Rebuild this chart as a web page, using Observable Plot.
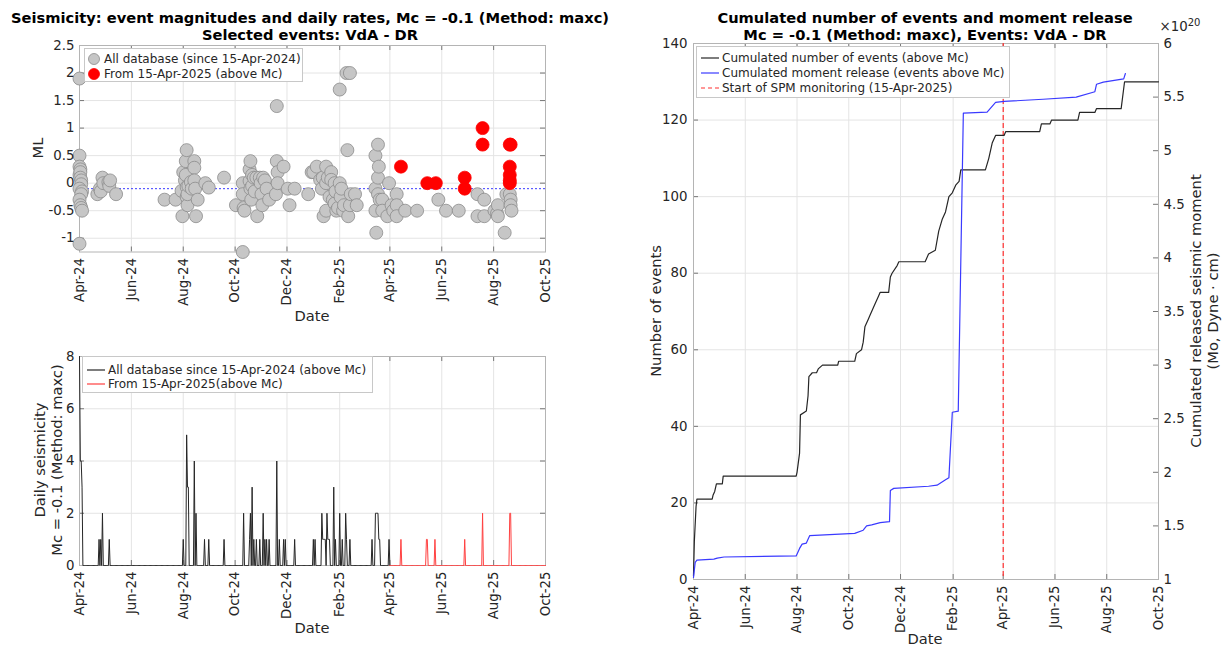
<!DOCTYPE html>
<html>
<head>
<meta charset="utf-8">
<script src="https://cdn.jsdelivr.net/npm/d3@7"></script>
<script src="https://cdn.jsdelivr.net/npm/@observablehq/plot@0.6"></script>
<style>
  html, body { margin: 0; padding: 0; background: #fff; }
  #page { position: relative; width: 1223px; height: 648px; overflow: hidden; font-family: "DejaVu Sans", sans-serif; color: #262626; }
  svg.panel { position: absolute; overflow: visible; max-width: none !important; }
  .txt { position: absolute; white-space: nowrap; transform: translate(-50%, -50%); }
  .title { font-weight: bold; font-size: 14.67px; color: #000; text-align: center; line-height: 17px; }
  .axlab { font-size: 14.67px; color: #262626; }
  .rot { transform: translate(-50%, -50%) rotate(-90deg); text-align: center; line-height: 17px; }
  .legend { position: absolute; background: #fff; border: 1px solid #c8c8c8; font-size: 12px; box-sizing: border-box; color: #262626; }
  .legend .row { position: absolute; display: flex; align-items: center; white-space: nowrap; transform: translateY(-50%); }
  .legend .row svg { margin-right: 3px; }
</style>
</head>
<body>
<div id="page"></div>
<script>
const parse = d3.utcParse("%Y-%m-%d");

// ---- time frame & settings ----
const startDate = "2024-04-15";
const endDate = "2025-10-15";
const monitoringDate = "2025-04-15";
const Mc = -0.1;
const tickDates = ["2024-04-15", "2024-06-15", "2024-08-15", "2024-10-15", "2024-12-15",
                   "2025-02-15", "2025-04-15", "2025-06-15", "2025-08-15", "2025-10-15"];
const mlTicks = [-1, -0.5, 0, 0.5, 1, 1.5, 2, 2.5];
const dailyTicks = [0, 2, 4, 6, 8];
const countTicks = [0, 20, 40, 60, 80, 100, 120, 140];
const momentTicks = [1, 1.5, 2, 2.5, 3, 3.5, 4, 4.5, 5, 5.5, 6];

// ---- magnitudes: all database (since 15-Apr-2024) ----
const allEvents = [
  ["2024-04-15", 1.9], ["2024-04-15", 0.5], ["2024-04-15", 0.3], ["2024-04-16", 0.25], ["2024-04-15", 0.15],
  ["2024-04-16", 0.2], ["2024-04-16", 0.1], ["2024-04-17", 0.05], ["2024-04-17", -0.02], ["2024-04-15", -0.1],
  ["2024-04-18", -0.15], ["2024-04-17", -0.2], ["2024-04-15", -0.3], ["2024-04-16", -0.4], ["2024-04-17", -0.45],
  ["2024-04-18", -0.5], ["2024-04-15", -1.1],
  ["2024-05-06", -0.2], ["2024-05-09", -0.1], ["2024-05-10", -0.15], ["2024-05-12", 0.1], ["2024-05-13", 0.0],
  ["2024-05-19", 0.02], ["2024-05-20", -0.05], ["2024-05-21", 0.05], ["2024-05-28", -0.2],
  ["2024-07-24", -0.3], ["2024-08-06", -0.3], ["2024-08-13", -0.14], ["2024-08-14", -0.6], ["2024-08-15", 0.2],
  ["2024-08-17", 0.05], ["2024-08-18", 0.4], ["2024-08-18", 0.15], ["2024-08-19", 0.6], ["2024-08-19", -0.07],
  ["2024-08-19", -0.25], ["2024-08-20", -0.4], ["2024-08-20", -0.2], ["2024-08-21", -0.05], ["2024-08-24", 0.02],
  ["2024-08-25", -0.1], ["2024-08-28", 0.4], ["2024-08-28", 0.28], ["2024-08-28", 0.05], ["2024-08-29", -0.1],
  ["2024-08-30", -0.6], ["2024-09-01", -0.3], ["2024-09-10", 0.0], ["2024-09-14", -0.08], ["2024-10-02", 0.1],
  ["2024-10-16", -0.4], ["2024-10-24", -1.25], ["2024-10-24", 0.0], ["2024-10-24", -0.2], ["2024-10-25", -0.45],
  ["2024-10-26", -0.5], ["2024-11-01", 0.04], ["2024-11-01", 0.25], ["2024-11-02", 0.4], ["2024-11-02", -0.1],
  ["2024-11-03", -0.3], ["2024-11-04", 0.15], ["2024-11-04", -0.05], ["2024-11-06", 0.1], ["2024-11-07", -0.15],
  ["2024-11-09", 0.1], ["2024-11-10", -0.6], ["2024-11-13", 0.1], ["2024-11-14", 0.0], ["2024-11-15", -0.2],
  ["2024-11-16", -0.4], ["2024-11-17", 0.1], ["2024-11-19", 0.05], ["2024-11-21", -0.1], ["2024-11-24", -0.3],
  ["2024-12-02", -0.2], ["2024-12-03", 1.4], ["2024-12-03", 0.4], ["2024-12-04", 0.2], ["2024-12-04", 0.0],
  ["2024-12-11", 0.3], ["2024-12-16", -0.1], ["2024-12-18", -0.4], ["2024-12-24", -0.1],
  ["2025-01-09", -0.2], ["2025-01-13", 0.2], ["2025-01-15", 0.2], ["2025-01-19", 0.3], ["2025-01-23", 0.06],
  ["2025-01-25", -0.1], ["2025-01-26", 0.1], ["2025-01-27", -0.6], ["2025-01-30", -0.5], ["2025-01-30", 0.3],
  ["2025-01-30", 0.0], ["2025-02-01", 0.1], ["2025-02-03", -0.25], ["2025-02-05", 0.2], ["2025-02-05", 0.06],
  ["2025-02-07", -0.3], ["2025-02-09", 0.0], ["2025-02-09", -0.37], ["2025-02-10", -0.15], ["2025-02-11", -0.5],
  ["2025-02-13", -0.45], ["2025-02-15", 1.7], ["2025-02-15", 0.0], ["2025-02-16", -0.25], ["2025-02-17", -0.1],
  ["2025-02-19", -0.5], ["2025-02-20", -0.4], ["2025-02-23", 2.0], ["2025-02-24", 0.6], ["2025-02-25", -0.6],
  ["2025-02-27", 2.0], ["2025-02-27", -0.4], ["2025-02-28", -0.2], ["2025-03-05", -0.2], ["2025-03-07", -0.4],
  ["2025-03-29", -0.1], ["2025-03-29", 0.5], ["2025-03-29", -0.5], ["2025-03-30", -0.9], ["2025-04-01", 0.7],
  ["2025-04-01", 0.1], ["2025-04-01", -0.2], ["2025-04-02", 0.3], ["2025-04-03", -0.3], ["2025-04-06", -0.3],
  ["2025-04-06", -0.5], ["2025-04-12", -0.6], ["2025-04-14", 0.0], ["2025-04-17", -0.4], ["2025-04-19", -0.5],
  ["2025-04-23", -0.2], ["2025-04-23", -0.4], ["2025-04-23", -0.6], ["2025-05-03", -0.5], ["2025-05-17", -0.5],
  ["2025-06-11", -0.3], ["2025-06-20", -0.5], ["2025-07-05", -0.5], ["2025-07-27", -0.2], ["2025-07-27", -0.6],
  ["2025-08-04", -0.6], ["2025-08-04", -0.3], ["2025-08-16", -0.5], ["2025-08-19", -0.55], ["2025-08-20", -0.4],
  ["2025-08-20", -0.6], ["2025-08-28", -0.9], ["2025-08-30", -0.2], ["2025-09-03", -0.2], ["2025-09-04", -0.3],
  ["2025-09-04", -0.4], ["2025-09-05", -0.5]
];

// ---- magnitudes: from 15-Apr-2025, above Mc ----
const newEvents = [
  ["2025-04-28", 0.3], ["2025-05-29", 0.0], ["2025-06-08", 0.0], ["2025-07-12", 0.1], ["2025-07-12", -0.1],
  ["2025-08-02", 1.0], ["2025-08-02", 0.7], ["2025-09-03", 0.7], ["2025-09-04", 0.7], ["2025-09-03", 0.3],
  ["2025-09-03", 0.15], ["2025-09-03", 0.05], ["2025-09-03", 0.0]
];

// ---- daily counts above Mc (days not listed had no events) ----
const dailyBefore = [
  ["2024-04-15", 8], ["2024-04-16", 4], ["2024-04-17", 4], ["2024-04-18", 3],
  ["2024-05-08", 1], ["2024-05-10", 1], ["2024-05-12", 2], ["2024-05-20", 1],
  ["2024-08-15", 1], ["2024-08-19", 5], ["2024-08-20", 3], ["2024-08-21", 3], ["2024-08-28", 4], ["2024-08-30", 2],
  ["2024-09-09", 1], ["2024-09-14", 1], ["2024-10-02", 1],
  ["2024-10-25", 2], ["2024-11-01", 1], ["2024-11-02", 2], ["2024-11-04", 3], ["2024-11-06", 1], ["2024-11-09", 1],
  ["2024-11-13", 1], ["2024-11-17", 2], ["2024-11-19", 1], ["2024-11-21", 1], ["2024-11-24", 1],
  ["2024-12-03", 4], ["2024-12-06", 1], ["2024-12-11", 1], ["2024-12-13", 1], ["2024-12-24", 1],
  ["2025-01-15", 1], ["2025-01-17", 1], ["2025-01-25", 2], ["2025-01-26", 1], ["2025-01-27", 1], ["2025-01-28", 1],
  ["2025-01-29", 1], ["2025-01-31", 2], ["2025-02-01", 1], ["2025-02-02", 1], ["2025-02-03", 1], ["2025-02-08", 3],
  ["2025-02-10", 1], ["2025-02-15", 2], ["2025-02-18", 1], ["2025-02-22", 2], ["2025-02-23", 1], ["2025-02-27", 1],
  ["2025-03-25", 1], ["2025-03-29", 2], ["2025-03-30", 2], ["2025-03-31", 2], ["2025-04-01", 2], ["2025-04-02", 1],
  ["2025-04-03", 1], ["2025-04-14", 1]
];
const dailyAfter = [
  ["2025-04-28", 1], ["2025-05-28", 1], ["2025-05-29", 1], ["2025-06-07", 1], ["2025-07-12", 1],
  ["2025-08-02", 2], ["2025-09-03", 2], ["2025-09-04", 2]
];

// ---- cumulated number of events (above Mc) ----
const cumCount = [
  ["2024-04-15", 1], ["2024-04-16", 10], ["2024-04-18", 19], ["2024-04-19", 21], ["2024-05-07", 21],
  ["2024-05-08", 22], ["2024-05-10", 23], ["2024-05-12", 25], ["2024-05-19", 25], ["2024-05-20", 27],
  ["2024-08-14", 27], ["2024-08-15", 28], ["2024-08-18", 33], ["2024-08-19", 43], ["2024-08-26", 44],
  ["2024-08-28", 48], ["2024-08-29", 53], ["2024-09-02", 54], ["2024-09-07", 54], ["2024-09-09", 55],
  ["2024-09-14", 56], ["2024-10-02", 56], ["2024-10-03", 57], ["2024-10-22", 57], ["2024-10-24", 59],
  ["2024-10-30", 60], ["2024-11-01", 62], ["2024-11-03", 66], ["2024-11-07", 68], ["2024-11-09", 69],
  ["2024-11-15", 72], ["2024-11-19", 74], ["2024-11-21", 75], ["2024-12-01", 75], ["2024-12-03", 79],
  ["2024-12-05", 80], ["2024-12-11", 82], ["2024-12-13", 83], ["2025-01-13", 83], ["2025-01-17", 85],
  ["2025-01-25", 86], ["2025-01-29", 91], ["2025-02-02", 94], ["2025-02-06", 96], ["2025-02-10", 100],
  ["2025-02-14", 101], ["2025-02-18", 103], ["2025-02-22", 104], ["2025-02-24", 107], ["2025-03-25", 107],
  ["2025-03-29", 110], ["2025-04-02", 114], ["2025-04-06", 116], ["2025-04-16", 116], ["2025-04-18", 117],
  ["2025-05-28", 117], ["2025-05-30", 119], ["2025-06-09", 119], ["2025-06-11", 120], ["2025-07-12", 120],
  ["2025-07-14", 122], ["2025-08-01", 122], ["2025-08-03", 123], ["2025-09-01", 123], ["2025-09-05", 130],
  ["2025-10-15", 130]
];

// ---- cumulated seismic moment (x 10^20 dyne cm) ----
const cumMoment = [
  ["2024-04-15", 1.02], ["2024-04-17", 1.16], ["2024-04-19", 1.18], ["2024-05-09", 1.19], ["2024-05-13", 1.20],
  ["2024-05-21", 1.21], ["2024-08-14", 1.22], ["2024-08-18", 1.29], ["2024-08-21", 1.33], ["2024-08-26", 1.34],
  ["2024-08-30", 1.41], ["2024-10-22", 1.43], ["2024-11-01", 1.46], ["2024-11-05", 1.50], ["2024-11-11", 1.51],
  ["2024-11-21", 1.53], ["2024-12-02", 1.54], ["2024-12-03", 1.83], ["2024-12-07", 1.85], ["2025-01-17", 1.87],
  ["2025-01-27", 1.88], ["2025-02-06", 1.93], ["2025-02-10", 1.95], ["2025-02-14", 2.56], ["2025-02-21", 2.57],
  ["2025-02-27", 5.35], ["2025-03-27", 5.36], ["2025-04-06", 5.45], ["2025-04-16", 5.46], ["2025-06-01", 5.48],
  ["2025-07-10", 5.50], ["2025-08-01", 5.55], ["2025-08-03", 5.62], ["2025-08-11", 5.64], ["2025-09-04", 5.67],
  ["2025-09-06", 5.72]
];

// ---- derived tables ----
const start = parse(startDate), end = parse(endDate), monitorStart = parse(monitoringDate);
const ticks = tickDates.map(parse);
const fmtTick = d3.utcFormat("%b-%y");
const toRows = (arr, key) => arr.map(([d, v]) => ({date: parse(d), [key]: v}));
const grayRows = toRows(allEvents, "ml");
const redRows = toRows(newEvents, "ml");
const countRows = toRows(cumCount, "n");
const momentRows = toRows(cumMoment, "m");

// full daily series: listed days carry their count, every other day is zero
function dailySeries(list, from, to) {
  const m = new Map(list.map(([d, n]) => [+parse(d), n]));
  return d3.utcDay.range(from, d3.utcDay.offset(to, 1)).map(d => ({date: d, n: m.get(+d) ?? 0}));
}
const dailyBeforeRows = dailySeries(dailyBefore, start, monitorStart);
const dailyAfterRows = dailySeries(dailyAfter, monitorStart, end);

// right axis of the cumulative panel: moment values mapped onto the count scale
const momentDomain = [1, 6], countDomain = [0, 140];
const momentToCount = d3.scaleLinear(momentDomain, countDomain);

const page = document.getElementById("page");
const GRID = "#e4e4e4", FRAME = "#b4b4b4", TICK = "#777";
const SPM_RED = "#ff3030";
const baseStyle = {fontFamily: "DejaVu Sans, sans-serif", fontSize: "13.33px", color: "#262626", background: "transparent", overflow: "visible"};

function addPanel(left, top, opts) {
  const svg = Plot.plot({...opts, style: baseStyle});
  svg.classList.add("panel");
  svg.style.left = left + "px";
  svg.style.top = top + "px";
  page.appendChild(svg);
}

// inward tick marks on the frame, mirrored like a boxed axes
function boxTicks(pw, ph, yTicks, mirrorY = true) {
  const m = [
    Plot.tickX(ticks, {stroke: TICK, insetTop: ph - 5}),
    Plot.tickX(ticks, {stroke: TICK, insetBottom: ph - 5}),
    Plot.tickY(yTicks, {stroke: TICK, insetRight: pw - 5})
  ];
  if (mirrorY) m.push(Plot.tickY(yTicks, {stroke: TICK, insetLeft: pw - 5}));
  return m;
}
const xAxis = () => Plot.axisX(ticks, {tickRotate: -90, tickFormat: fmtTick, tickSize: 0, tickPadding: 6, label: null});

// ---- panel 1: magnitudes ----
addPanel(0, 0, {
  width: 600, height: 330, marginLeft: 79, marginRight: 55, marginTop: 45, marginBottom: 78.5,
  x: {type: "utc", domain: [start, end]},
  y: {domain: [-1.25, 2.5]},
  marks: [
    Plot.gridX(ticks, {stroke: GRID, strokeOpacity: 1}),
    Plot.gridY(mlTicks, {stroke: GRID, strokeOpacity: 1}),
    ...boxTicks(466, 206.5, mlTicks),
    Plot.frame({stroke: FRAME}),
    Plot.ruleY([Mc], {stroke: "#3b3bff", strokeDasharray: "2,2", strokeWidth: 1}),
    Plot.dot(grayRows, {x: "date", y: "ml", r: 6.5, fill: "#c6c6c6", stroke: "#8c8c8c", strokeWidth: 0.8}),
    Plot.dot(redRows, {x: "date", y: "ml", r: 6.5, fill: "#ff0000", stroke: "#ff0000", strokeWidth: 0.8}),
    xAxis(),
    Plot.axisY(mlTicks, {tickSize: 0, tickPadding: 5, tickFormat: d => String(d), label: null})
  ]
});

// ---- panel 2: daily seismicity ----
addPanel(0, 330, {
  width: 600, height: 318, marginLeft: 79, marginRight: 55, marginTop: 26, marginBottom: 83,
  x: {type: "utc", domain: [start, end]},
  y: {domain: [0, 8]},
  marks: [
    Plot.gridX(ticks, {stroke: GRID, strokeOpacity: 1}),
    Plot.gridY(dailyTicks, {stroke: GRID, strokeOpacity: 1}),
    ...boxTicks(466, 209, dailyTicks),
    Plot.frame({stroke: FRAME}),
    Plot.line(dailyBeforeRows, {x: "date", y: "n", stroke: "#262626", strokeWidth: 1}),
    Plot.line(dailyAfterRows, {x: "date", y: "n", stroke: "#ff4040", strokeWidth: 1}),
    xAxis(),
    Plot.axisY(dailyTicks, {tickSize: 0, tickPadding: 5, tickFormat: d => String(d), label: null})
  ]
});

// ---- panel 3: cumulated events and moment ----
addPanel(610, 0, {
  width: 613, height: 648, marginLeft: 83, marginRight: 65, marginTop: 43, marginBottom: 69,
  x: {type: "utc", domain: [start, end]},
  y: {domain: countDomain},
  marks: [
    Plot.gridX(ticks, {stroke: GRID, strokeOpacity: 1}),
    Plot.gridY(countTicks, {stroke: GRID, strokeOpacity: 1}),
    Plot.tickX(ticks, {stroke: TICK, insetTop: 536 - 5}),
    Plot.tickX(ticks, {stroke: TICK, insetBottom: 536 - 5}),
    Plot.tickY(countTicks, {stroke: TICK, insetRight: 465 - 5}),
    Plot.tickY(momentTicks, {y: momentToCount, stroke: TICK, insetLeft: 465 - 5}),
    Plot.frame({stroke: FRAME}),
    Plot.ruleX([monitorStart], {stroke: SPM_RED, strokeDasharray: "5,3", strokeWidth: 1.2}),
    Plot.line(countRows, {x: "date", y: "n", stroke: "#262626", strokeWidth: 1.2}),
    Plot.line(momentRows, {x: "date", y: d => momentToCount(d.m), stroke: "#3a3aff", strokeWidth: 1.2}),
    xAxis(),
    Plot.axisY(countTicks, {tickSize: 0, tickPadding: 6, tickFormat: d => String(d), label: null}),
    Plot.axisY(momentTicks, {anchor: "right", y: momentToCount, tickSize: 0, tickPadding: 5, tickFormat: d => String(d), label: null})
  ]
});

// ---- text ----
function text(html, x, y, cls) {
  const el = document.createElement("div");
  el.className = "txt " + cls;
  el.innerHTML = html;
  el.style.left = x + "px";
  el.style.top = y + "px";
  page.appendChild(el);
  return el;
}
text("Seismicity: event magnitudes and daily rates, Mc = -0.1 (Method: maxc)<br>Selected events: VdA - DR", 310, 25.5, "title");
text("Cumulated number of events and moment release<br>Mc = -0.1 (Method: maxc), Events: VdA - DR", 925, 25.5, "title");
text("ML", 37, 148, "axlab rot");
text("Date", 312, 315, "axlab");
text("Daily seismicity<br>Mc = -0.1 (Method: maxc)", 48, 460, "axlab rot");
text("Date", 312, 627, "axlab");
text("Number of events", 655, 311, "axlab rot");
text("Cumulated released seismic moment<br>(Mo, Dyne · cm)", 1204, 311, "axlab rot");
text("Date", 925, 638, "axlab");
const exp = text("×10<sup style='font-size:10px;vertical-align:5px'>20</sup>", 1180, 25, "");
exp.style.fontSize = "13.33px";
exp.style.lineHeight = "14px";

// ---- legends ----
function legend(x, y, w, h, rows) {
  const box = document.createElement("div");
  box.className = "legend";
  Object.assign(box.style, {left: x + "px", top: y + "px", width: w + "px", height: h + "px"});
  rows.forEach(r => {
    const row = document.createElement("div");
    row.className = "row";
    row.style.left = r.left + "px";
    row.style.top = r.top + "px";
    row.innerHTML = r.swatch + `<span>${r.label}</span>`;
    box.appendChild(row);
  });
  page.appendChild(box);
}
const dotSwatch = (fill, stroke) => `<svg width="14" height="14"><circle cx="7" cy="7" r="5.5" fill="${fill}" stroke="${stroke}" stroke-width="0.8"/></svg>`;
const lineSwatch = (stroke, dash) => `<svg width="18" height="10"><line x1="0" x2="18" y1="5" y2="5" stroke="${stroke}" stroke-width="1.2" ${dash ? `stroke-dasharray="${dash}"` : ""}/></svg>`;

legend(84, 48, 219, 34, [
  {left: 2, top: 9.5, swatch: dotSwatch("#c6c6c6", "#8c8c8c"), label: "All database (since 15-Apr-2024)"},
  {left: 2, top: 24.5, swatch: dotSwatch("#ff0000", "#ff0000"), label: "From 15-Apr-2025 (above Mc)"}
]);
legend(82, 356, 291, 37, [
  {left: 4, top: 13, swatch: lineSwatch("#262626"), label: "All database since 15-Apr-2024 (above Mc)"},
  {left: 4, top: 27, swatch: lineSwatch("#ff4040"), label: "From 15-Apr-2025(above Mc)"}
]);
legend(696, 46, 314, 52, [
  {left: 4, top: 11, swatch: lineSwatch("#262626"), label: "Cumulated number of events (above Mc)"},
  {left: 4, top: 26, swatch: lineSwatch("#3a3aff"), label: "Cumulated moment release (events above Mc)"},
  {left: 4, top: 41, swatch: lineSwatch(SPM_RED, "4,3"), label: "Start of SPM monitoring (15-Apr-2025)"}
]);
</script>
</body>
</html>
